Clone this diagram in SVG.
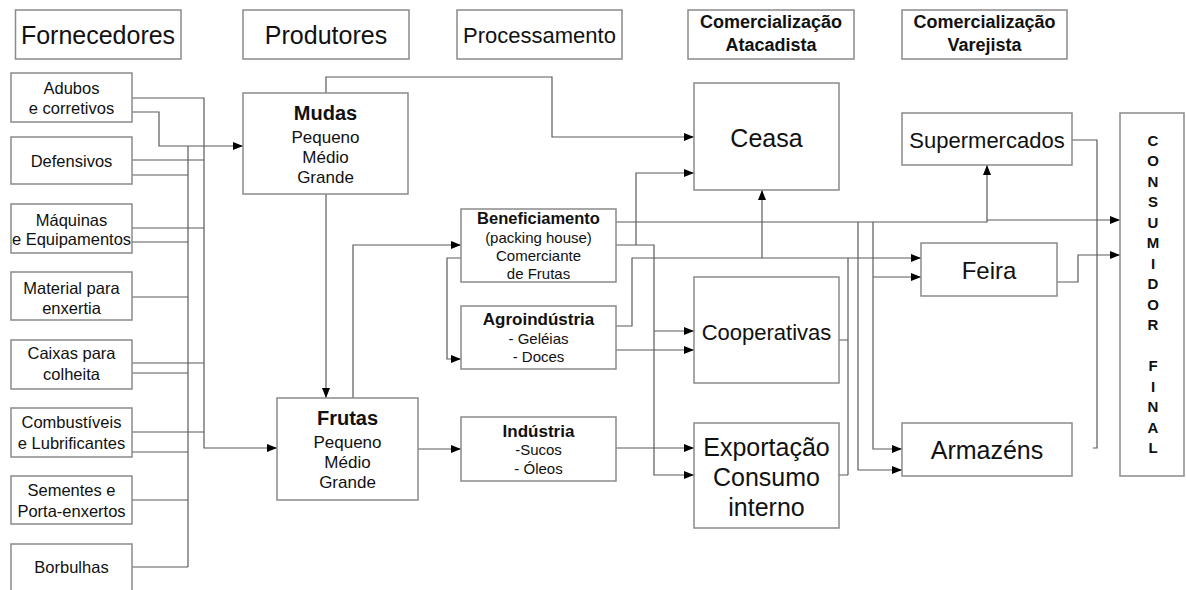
<svg xmlns="http://www.w3.org/2000/svg" width="1186" height="590" viewBox="0 0 1186 590">
<defs>
<style>
.b{fill:#fff;stroke:#8a8a8a;stroke-width:1.5}
.t{font-family:"Liberation Sans",Arial,sans-serif;fill:#111;text-anchor:middle}
.h{font-size:25px}
.s{font-size:16.5px}
.p{font-size:15px}
.bd{font-weight:bold}
.c{fill:none;stroke:#5a5a5a;stroke-width:1.2}
.a{marker-end:url(#ar)}
</style>
<marker id="ar" viewBox="0 0 10 8" refX="10" refY="4" markerWidth="10" markerHeight="8" markerUnits="userSpaceOnUse" orient="auto"><path d="M0,0 L10,4 L0,8 z" fill="#000"/></marker>
</defs>
<rect width="1186" height="590" fill="#fff"/>

<g id="headers">
<g id="h-fornecedores"><rect class="b" x="15.5" y="10" width="165.5" height="49"/><text class="t h" x="98" y="44">Fornecedores</text></g>
<g id="h-produtores"><rect class="b" x="243" y="10" width="166" height="49"/><text class="t h" x="326" y="44">Produtores</text></g>
<g id="h-processamento"><rect class="b" x="457" y="10" width="165" height="49"/><text class="t" style="font-size:22px" x="539.5" y="43">Processamento</text></g>
<g id="h-atacadista"><rect class="b" x="688" y="10" width="166" height="49"/><text class="t bd" style="font-size:18px" x="771" y="28">Comercialização</text><text class="t bd" style="font-size:18px" x="771" y="51">Atacadista</text></g>
<g id="h-varejista"><rect class="b" x="902" y="10" width="165" height="49"/><text class="t bd" style="font-size:18px" x="984.5" y="28">Comercialização</text><text class="t bd" style="font-size:18px" x="984.5" y="51">Varejista</text></g>
</g>

<g id="connectors">
<path class="c a" d="M132,98 H204 V448 H277"/>
<path class="c a" d="M132,112 H159 V146 H243"/>
<path class="c" d="M188,146 V567"/>
<path class="c" d="M132,160 H204 M132,175 H188 M132,228 H204 M132,242 H188 M132,297 H188 M132,363 H204 M132,373 H188 M132,432 H204 M132,452 H188 M132,500 H188 M132,567 H188"/>
<path class="c a" d="M326,93 V77 H552 V137 H694"/>
<path class="c a" d="M326,194 V398"/>
<path class="c a" d="M353,398 V245 H461"/>
<path class="c a" d="M461,258 H447 V359 H461"/>
<path class="c a" d="M418,449 H461"/>
<path class="c a" d="M616,222 H987 V165"/>
<path class="c a" d="M987,220 H1120"/>
<path class="c a" d="M858,222 V470 H902"/>
<path class="c a" d="M873,222 V449 H902"/>
<path class="c a" d="M873,277 H921"/>
<path class="c a" d="M616,245 H654 V475 H694"/>
<path class="c a" d="M654,331 H694"/>
<path class="c a" d="M636,245 V173 H694"/>
<path class="c a" d="M616,326 H632 V258 H921"/>
<path class="c a" d="M762,258 V190"/>
<path class="c a" d="M616,350 H694"/>
<path class="c a" d="M616,448 H694"/>
<path class="c" d="M839,340 H848 M839,475 H848 M848,258 V475"/>
<path class="c" d="M1072,140 H1097 V448 H1093"/>
<path class="c a" d="M1057,282 H1078 V255 H1120"/>
</g>

<g id="suppliers">
<g id="adubos"><rect class="b" x="11" y="73" width="121" height="49"/><text class="t s" x="71.5" y="94">Adubos</text><text class="t s" x="71.5" y="114">e corretivos</text></g>
<g id="defensivos"><rect class="b" x="11" y="137" width="121" height="47"/><text class="t s" x="71.5" y="167">Defensivos</text></g>
<g id="maquinas"><rect class="b" x="11" y="204" width="121" height="49"/><text class="t s" x="71.5" y="226">Máquinas</text><text class="t s" x="71.5" y="245">e Equipamentos</text></g>
<g id="material"><rect class="b" x="11" y="272" width="121" height="48"/><text class="t s" x="71.5" y="294">Material para</text><text class="t s" x="71.5" y="314">enxertia</text></g>
<g id="caixas"><rect class="b" x="11" y="340" width="121" height="49"/><text class="t s" x="71.5" y="359">Caixas para</text><text class="t s" x="71.5" y="380">colheita</text></g>
<g id="combustiveis"><rect class="b" x="11" y="408" width="121" height="49"/><text class="t s" x="71.5" y="428">Combustíveis</text><text class="t s" x="71.5" y="449">e Lubrificantes</text></g>
<g id="sementes"><rect class="b" x="11" y="476" width="121" height="48"/><text class="t s" x="71.5" y="496">Sementes e</text><text class="t s" x="71.5" y="517">Porta-enxertos</text></g>
<g id="borbulhas"><rect class="b" x="11" y="544" width="121" height="60"/><text class="t s" x="71.5" y="573">Borbulhas</text></g>
</g>

<g id="mudas"><rect class="b" x="243" y="93" width="165" height="101"/><text class="t bd" style="font-size:20px" x="325.5" y="120">Mudas</text><text class="t" style="font-size:17px" x="325.5" y="143">Pequeno</text><text class="t" style="font-size:17px" x="325.5" y="163">Médio</text><text class="t" style="font-size:17px" x="325.5" y="183">Grande</text></g>
<g id="frutas"><rect class="b" x="277" y="398" width="141" height="102"/><text class="t bd" style="font-size:20px" x="347.5" y="425">Frutas</text><text class="t" style="font-size:17px" x="347.5" y="448">Pequeno</text><text class="t" style="font-size:17px" x="347.5" y="468">Médio</text><text class="t" style="font-size:17px" x="347.5" y="488">Grande</text></g>

<g id="beneficiamento"><rect class="b" x="461" y="209" width="155" height="73"/><text class="t bd" style="font-size:16.5px" x="538.5" y="224">Beneficiamento</text><text class="t p" x="538.5" y="243">(packing house)</text><text class="t p" x="538.5" y="261">Comerciante</text><text class="t p" x="538.5" y="279">de Frutas</text></g>
<g id="agroindustria"><rect class="b" x="461" y="306" width="155" height="63"/><text class="t bd" style="font-size:17px" x="538.5" y="325">Agroindústria</text><text class="t p" x="538.5" y="344">- Geléias</text><text class="t p" x="538.5" y="362">- Doces</text></g>
<g id="industria"><rect class="b" x="461" y="417" width="155" height="64"/><text class="t bd" style="font-size:17px" x="538.5" y="437">Indústria</text><text class="t p" x="538.5" y="455">-Sucos</text><text class="t p" x="538.5" y="474">- Óleos</text></g>

<g id="ceasa"><rect class="b" x="694" y="83" width="145" height="107"/><text class="t h" x="766.5" y="147">Ceasa</text></g>
<g id="cooperativas"><rect class="b" x="694" y="277" width="145" height="106"/><text class="t" style="font-size:22px" x="766.5" y="340">Cooperativas</text></g>
<g id="exportacao"><rect class="b" x="694" y="423" width="145" height="105"/><text class="t h" x="766.5" y="456">Exportação</text><text class="t h" x="766.5" y="486">Consumo</text><text class="t h" x="766.5" y="516">interno</text></g>

<g id="supermercados"><rect class="b" x="902" y="113" width="170" height="52"/><text class="t" style="font-size:22px" x="987" y="148">Supermercados</text></g>
<g id="feira"><rect class="b" x="921" y="243" width="136" height="53"/><text class="t" style="font-size:24px" x="989" y="279">Feira</text></g>
<g id="armazens"><rect class="b" x="902" y="423" width="170" height="53"/><text class="t h" x="987" y="459">Armazéns</text></g>

<g id="consumidor"><rect class="b" x="1120" y="113" width="64" height="363"/>
<g class="t bd" style="font-size:15px">
<text x="1153" y="145.5">C</text><text x="1153" y="166">O</text><text x="1153" y="186.5">N</text><text x="1153" y="207">S</text><text x="1153" y="227.5">U</text><text x="1153" y="248">M</text><text x="1153" y="268.5">I</text><text x="1153" y="289">D</text><text x="1153" y="309.5">O</text><text x="1153" y="330">R</text><text x="1153" y="371">F</text><text x="1153" y="391.5">I</text><text x="1153" y="412">N</text><text x="1153" y="432.5">A</text><text x="1153" y="453">L</text>
</g></g>
</svg>
